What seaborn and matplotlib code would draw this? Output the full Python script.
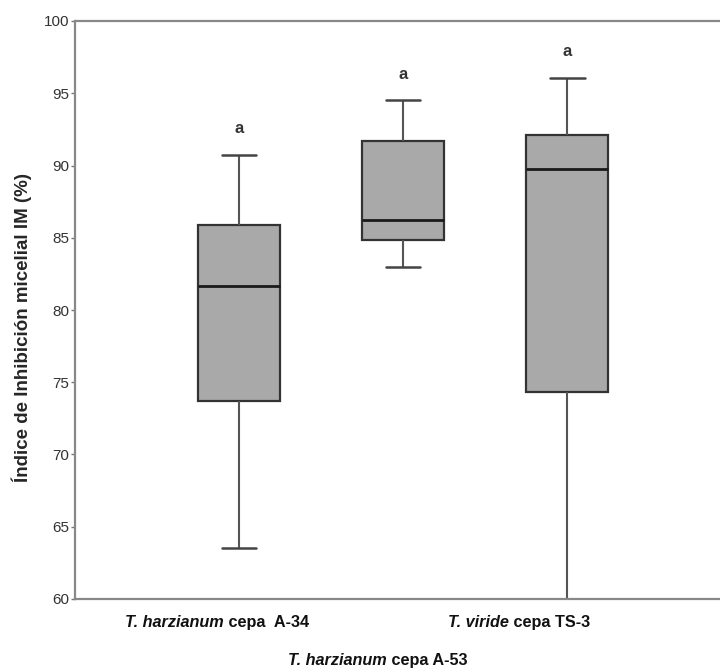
import matplotlib
matplotlib.use("Agg")
import pandas as pd
import matplotlib.pyplot as plt
import seaborn as sns

# Five-number summaries (min, Q1, median, Q3, max)
groups = ["A-34", "A-53", "TS-3"]
mins = [63.5, 83.0, 60.0]
q1s = [73.7, 84.85, 74.3]
medians = [81.65, 86.25, 89.75]
q3s = [85.9, 91.7, 92.1]
maxs = [90.75, 94.5, 96.05]
letters = ["a", "a", "a"]

species = ["T. harzianum", "T. harzianum", "T. viride"]
strain = [" cepa  A-34", " cepa A-53", " cepa TS-3"]

rows = []
for g, a, b, c, d, e in zip(groups, mins, q1s, medians, q3s, maxs):
    for v in (a, b, c, d, e):
        rows.append({"cepa": g, "IM": v})
df = pd.DataFrame(rows)

sns.set_style("white")
plt.rcParams["font.family"] = ["Liberation Sans", "DejaVu Sans"]

fig = plt.figure(figsize=(7.2, 6.7), dpi=100)
ax = fig.add_axes([75 / 720, 71 / 670, 645 / 720, 578 / 670])

sns.boxplot(data=df, x="cepa", y="IM", order=groups, whis=(0, 100),
            width=0.5, color="#a9a9a9", linecolor="#333333", linewidth=1.6,
            capwidths=0.21, ax=ax,
            whiskerprops=dict(color="#555555", linewidth=1.5),
            capprops=dict(color="#444444", linewidth=1.8),
            medianprops=dict(color="#1a1a1a", linewidth=2),
            boxprops=dict(facecolor="#a9a9a9", edgecolor="#333333"))

ax.set_xlim(-1.0, 2.93)
ax.set_ylim(60, 100)
ax.set_yticks(range(60, 101, 5))
ax.tick_params(axis="y", left=True, length=3, width=1, color="#777777",
               labelsize=11, labelcolor="#333333", pad=1)
ax.set_xticks([])
ax.set_xlabel("")
ax.set_ylabel("Índice de Inhibición micelial IM (%)", fontsize=13.5,
              fontweight="bold")
ax.yaxis.set_label_coords(-0.066, 0.47)

for side in ("left", "bottom", "top"):
    ax.spines[side].set_visible(True)
    ax.spines[side].set_color("#888888")
    ax.spines[side].set_linewidth(1.6)
ax.spines["right"].set_visible(False)

# significance letters above the whiskers
for i, (m, lt) in enumerate(zip(maxs, letters)):
    ax.text(i, m + 1.3, lt, ha="center", va="bottom", fontsize=12,
            fontweight="bold", color="#333333")

# staggered category labels (italic species + plain strain)
starts = [-0.695, 0.30, 1.274]
ys = [-0.04, -0.107, -0.04]
for x0, y0, sp, st in zip(starts, ys, species, strain):
    t = ax.text(x0, y0, sp, transform=ax.get_xaxis_transform(), ha="left",
                va="center", fontsize=11.7, fontweight="bold",
                fontstyle="italic", color="#111111")
    ax.annotate(st, xy=(1, 0), xycoords=t, ha="left", va="bottom",
                fontsize=11.7, fontweight="bold", color="#111111")

fig.savefig("out.png", dpi=100)
